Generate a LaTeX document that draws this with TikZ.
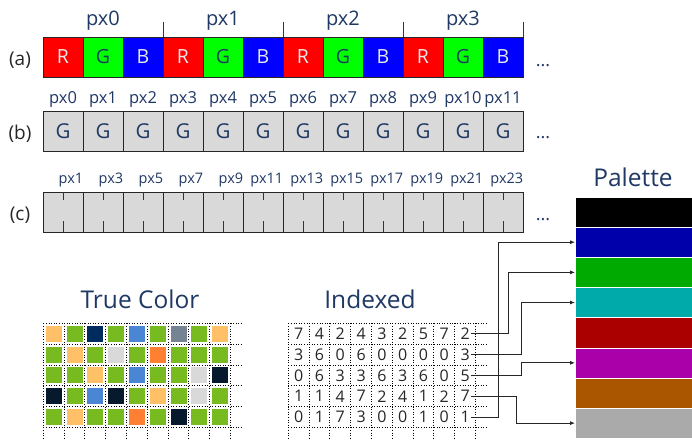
\documentclass[tikz,border=0pt]{standalone}
\usepackage{fontspec}
\setmainfont{Open Sans}
\usetikzlibrary{arrows.meta,calc}
\definecolor{tblue}{RGB}{31,56,100}
\definecolor{tdark}{RGB}{38,38,38}
\definecolor{rgblight}{RGB}{232,232,232}
\definecolor{cellgray}{RGB}{217,217,217}
\definecolor{lorange}{RGB}{255,192,104}
\definecolor{tgreen}{RGB}{120,187,32}
\definecolor{navy}{RGB}{0,43,94}
\definecolor{mblue}{RGB}{74,134,212}
\definecolor{slate}{RGB}{117,131,146}
\definecolor{lgray}{RGB}{217,217,217}
\definecolor{orng}{RGB}{255,128,51}
\definecolor{dnavy}{RGB}{7,26,45}
\definecolor{pal0}{RGB}{0,0,0}
\definecolor{pal1}{RGB}{0,0,170}
\definecolor{pal2}{RGB}{0,170,0}
\definecolor{pal3}{RGB}{0,170,170}
\definecolor{pal4}{RGB}{170,0,0}
\definecolor{pal5}{RGB}{170,0,170}
\definecolor{pal6}{RGB}{170,85,0}
\definecolor{pal7}{RGB}{170,170,170}
\newcommand{\myfs}[1]{\fontsize{#1}{#1}\selectfont}
\tikzset{
  cellbox/.style={draw=black!85, line width=0.8pt, minimum width=40pt, minimum height=40pt, inner sep=0pt, font=\myfs{19.5}},
  graybox/.style={draw=black!85, line width=0.8pt, fill=cellgray, minimum width=40pt, minimum height=39.5pt, inner sep=0pt, text=tblue, font=\myfs{20.5}},
  toplab/.style={inner sep=0pt, anchor=base, text=tblue, font=\myfs{20}},
  blab/.style={inner sep=0pt, anchor=base, text=tblue, font=\myfs{16.5}},
  clab/.style={inner sep=0pt, anchor=base east, text=tblue, font=\myfs{14.5}},
  rowlab/.style={inner sep=0pt, anchor=base, text=tdark, font=\myfs{19}},
  dotslab/.style={inner sep=0pt, text=tblue, font=\myfs{18}},
  titlelab/.style={inner sep=0pt, anchor=base, text=tblue, font=\myfs{24.5}},
  tick/.style={draw=black!80, line width=0.8pt},
  dotgrid/.style={draw=black, line width=0.9pt, dash pattern=on 1pt off 1.6pt},
  digit/.style={inner sep=1pt, text=tdark, font=\myfs{16}},
  palband/.style={fill=#1, draw=white, line width=0.5pt, minimum width=117pt, minimum height=30.16pt, inner sep=0pt, anchor=north west},
  conn/.style={draw=black!85, line width=0.8pt, -{Latex[length=5pt,width=4pt]}},
}
\begin{document}
\begin{tikzpicture}[x=1pt,y=-1pt]
\useasboundingbox (0,0) rectangle (692,439);

% ---------- row (a)
\foreach \j in {0,...,3} {
  \pgfmathtruncatemacro\ia{3*\j}
  \pgfmathtruncatemacro\ib{3*\j+1}
  \pgfmathtruncatemacro\ic{3*\j+2}
  \node[cellbox, fill=red, text=rgblight] (a\ia) at ({63+120*\j},57) {R};
  \node[cellbox, fill=green, text=tblue] (a\ib) at ({103+120*\j},57) {G};
  \node[cellbox, fill=blue, text=rgblight] (a\ic) at ({143+120*\j},57) {B};
  \node[toplab] (ta\j) at ({103+120*\j},25) {px\j};
  \draw[tick] (a\ic.north east) -- ++(0,-15);
}
\node[rowlab] (la) at (20,65) {(a)};
\node[dotslab] (da) at (543,66) {...};

% ---------- row (b)
\foreach \i in {0,...,11} {
  \node[graybox] (b\i) at ({63+40*\i},131.5) {G};
  \node[blab] (tb\i) at ({63+40*\i},103.3) {px\i};
}
\node[rowlab] (lb) at (20,139.5) {(b)};
\node[dotslab] (db) at (543,138) {...};

% ---------- row (c)
\foreach \i in {0,...,11} {
  \pgfmathtruncatemacro\k{2*\i+1}
  \node[graybox] (c\i) at ({63+40*\i},212.3) {};
  \draw[tick] (c\i.north) -- ++(0,8);
  \draw[tick] (c\i.south) -- ++(0,-11.5);
  \node[clab] (tc\i) at ($(c\i.north east)+(0,-8.8)$) {px\k};
}
\node[rowlab] (lc) at (20,220) {(c)};
\node[dotslab] (dc) at (543,220) {...};

% ---------- True Color
\node[titlelab] (ttc) at (140,308.3) {True Color};
\foreach \k in {0,...,9} \draw[dotgrid] ({43.3+20.8*\k},323.3) -- ({43.3+20.8*\k},439);
\foreach \r in {0,...,5} \draw[dotgrid] (43.3,{323.3+20.85*\r}) -- (243,{323.3+20.85*\r});
\foreach \r/\cols in {
  0/{lorange,tgreen,navy,tgreen,mblue,tgreen,slate,tgreen,lorange},
  1/{tgreen,lorange,tgreen,lgray,tgreen,orng,tgreen,tgreen,tgreen},
  2/{tgreen,tgreen,lorange,tgreen,mblue,tgreen,tgreen,lgray,dnavy},
  3/{dnavy,tgreen,mblue,dnavy,tgreen,lorange,tgreen,lgray,tgreen},
  4/{tgreen,lorange,tgreen,tgreen,orng,tgreen,dnavy,tgreen,tgreen}} {
  \foreach \c [count=\k from 0] in \cols {
    \fill[\c] ({45.7+20.8*\k},{325.7+20.85*\r}) rectangle ++(16,16);
  }
}

% ---------- Indexed
\node[titlelab] (tix) at (370,308.3) {Indexed};
\foreach \k in {0,...,9} \draw[dotgrid] ({288.3+20.8*\k},323.3) -- ({288.3+20.8*\k},439);
\foreach \r in {0,...,5} \draw[dotgrid] (288.3,{323.3+20.85*\r}) -- (487,{323.3+20.85*\r});
\foreach \r/\vals in {
  0/{7,4,2,4,3,2,5,7,2},
  1/{3,6,0,6,0,0,0,0,3},
  2/{0,6,3,3,6,3,6,0,5},
  3/{1,1,4,7,2,4,1,2,7},
  4/{0,1,7,3,0,0,1,0,1}} {
  \foreach \v [count=\k from 0] in \vals {
    \node[digit] (d\r x\k) at ({298.7+20.8*\k},{333.7+20.85*\r}) {\v};
  }
}

% ---------- Palette
\node[titlelab] (tpal) at (633,186) {Palette};
\foreach \k in {0,...,7} {
  \node[palband=pal\k] (p\k) at (575,{196.7+30.16*\k}) {};
}

% ---------- connectors
\coordinate (v0) at (508.3,0);
\coordinate (v1) at (521.7,0);
\coordinate (v3) at (516.3,0);
\coordinate (v4) at (498.8,0);
\draw[conn] (d0x8.east) -- (d0x8.east -| v0) |- (p2.west);
\draw[conn] (d1x8.east) -- (d1x8.east -| v1) |- (p3.west);
\draw[conn] (d2x8.east) -- (d2x8.east -| v1) |- (p5.west);
\draw[conn] (d3x8.east) -- (d3x8.east -| v3) |- (p7.west);
\draw[conn] (d4x8.east) -- (d4x8.east -| v4) |- (p1.west);
\end{tikzpicture}
\end{document}
